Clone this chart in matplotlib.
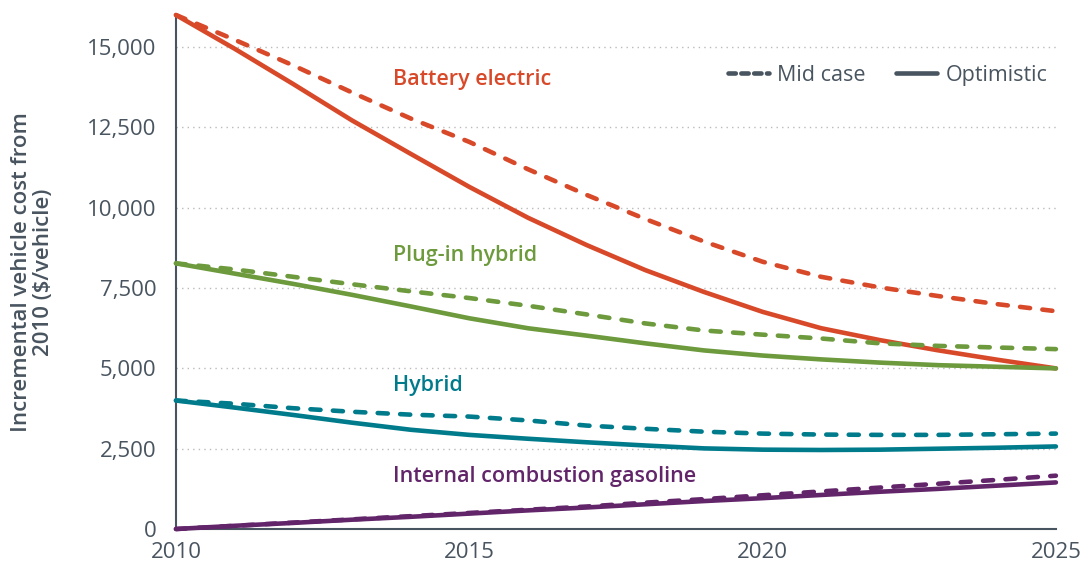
import matplotlib.pyplot as plt
from matplotlib.ticker import FuncFormatter

plt.rcParams['font.family'] = ['Open Sans', 'DejaVu Sans']

years = list(range(2010, 2026))

bev_mid = [16000, 15230, 14430, 13590, 12780, 12050, 11200, 10400, 9650, 8950,
           8320, 7850, 7520, 7250, 7000, 6780]
bev_opt = [16000, 14950, 13850, 12720, 11680, 10650, 9690, 8840, 8060, 7380,
           6760, 6250, 5880, 5560, 5270, 5000]
phev_mid = [8270, 8080, 7850, 7620, 7400, 7190, 6950, 6680, 6400, 6180,
            6050, 5930, 5780, 5700, 5650, 5600]
phev_opt = [8270, 7950, 7630, 7290, 6930, 6560, 6250, 6020, 5780, 5560,
            5400, 5280, 5180, 5100, 5050, 5000]
hev_mid = [4000, 3900, 3760, 3650, 3560, 3500, 3380, 3220, 3120, 3030,
           2970, 2940, 2930, 2930, 2950, 2970]
hev_opt = [4000, 3780, 3550, 3310, 3090, 2930, 2810, 2700, 2600, 2510,
           2470, 2460, 2470, 2500, 2530, 2570]
ice_mid = [0, 100, 200, 300, 400, 500, 600, 700, 820, 930,
           1050, 1170, 1290, 1410, 1530, 1660]
ice_opt = [0, 100, 190, 290, 380, 480, 580, 670, 770, 870,
           960, 1060, 1160, 1250, 1350, 1450]

names = ["Battery electric", "Plug-in hybrid", "Hybrid", "Internal combustion gasoline"]
colors = ["#D8492A", "#6C9A3C", "#007B8C", "#62256A"]
mids = [bev_mid, phev_mid, hev_mid, ice_mid]
opts = [bev_opt, phev_opt, hev_opt, ice_opt]
label_pos = [(2013.7, 14000), (2013.7, 8500), (2013.7, 4480), (2013.7, 1620)]

ink = "#48545F"
dash = (0, (2.2, 2.7))

fig = plt.figure(figsize=(10.89, 5.67), dpi=100)
ax = fig.add_axes([0.1616, 0.067, 0.808, 0.9065])

for name, c, m, o, (lx, ly) in zip(names, colors, mids, opts, label_pos):
    ax.plot(years, o, color=c, lw=3.3, solid_capstyle='round', clip_on=False, zorder=3)
    ax.plot(years, m, color=c, lw=3.3, ls=dash, dash_capstyle='round',
            clip_on=False, zorder=3)
    ax.text(lx, ly, name, color=c, fontsize=15.5, fontweight='semibold', va='center', ha='left')

# legend
ax.plot([], [], color=ink, lw=3.3, ls=(0, (1.6, 1.2)), dash_capstyle='round', label="Mid case")
ax.plot([], [], color=ink, lw=3.3, solid_capstyle='round', label="Optimistic")
leg = ax.legend(loc='upper right', bbox_to_anchor=(1.0, 0.92), ncol=2, frameon=False,
                fontsize=15.5, handlelength=1.9, columnspacing=1.4, handletextpad=0.4,
                borderaxespad=0.0)
for t in leg.get_texts():
    t.set_color(ink)

ax.set_xlim(2010, 2025)
ax.set_ylim(0, 16000)
ax.set_xticks([2010, 2015, 2020, 2025])
ax.set_yticks(range(0, 15001, 2500))
ax.yaxis.set_major_formatter(FuncFormatter(lambda v, p: f"{int(v):,}"))
ax.tick_params(length=0, labelsize=16, labelcolor=ink)
ax.tick_params(axis='y', pad=14)
ax.tick_params(axis='x', pad=9)

ax.yaxis.grid(True, ls=(0, (1, 3)), color="#BBBBBB", lw=1)
ax.set_axisbelow(True)
for s in ['top', 'right']:
    ax.spines[s].set_visible(False)
for s in ['left', 'bottom']:
    ax.spines[s].set_color(ink)
    ax.spines[s].set_linewidth(1.5)

ax.set_ylabel("Incremental vehicle cost from\n2010 ($/vehicle)", fontsize=16,
              color=ink, fontweight='semibold', labelpad=24, linespacing=1.05)

fig.savefig("out.png", dpi=100)
